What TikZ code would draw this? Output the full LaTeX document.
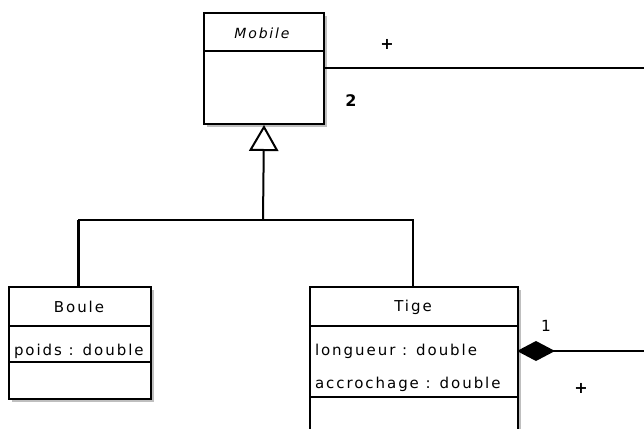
\documentclass[tikz,border=0pt]{standalone}
\usepackage{fontspec}
\setmainfont{DejaVu Sans}
\newfontfamily\umlf[LetterSpace=13]{DejaVu Sans}
\usetikzlibrary{arrows.meta,shadows}
\begin{document}
\begin{tikzpicture}[x=0.75pt,y=-0.75pt,line width=1.5pt,
  classbox/.style={draw, line width=1.5pt, fill=white, inner sep=0pt, anchor=north west,
    drop shadow={shadow xshift=2.25pt, shadow yshift=-2.25pt, fill=black!25, opacity=1}},
  lbl/.style={font=\umlf\fontsize{11.25pt}{13pt}\selectfont, inner sep=0pt},
  attr/.style={lbl, anchor=west},
  mult/.style={font=\fontsize{11.5pt}{13pt}\selectfont, inner sep=0pt},
  multb/.style={mult, font=\bfseries\fontsize{12pt}{13pt}\selectfont},
  conn/.style={line width=1.5pt}]
\useasboundingbox (0,0) rectangle (644,429);
\clip (0,0) rectangle (644,429);
% classes
\node[classbox, minimum width=90pt, minimum height=83.25pt] (mobile) at (203,12) {};
\node[classbox, minimum width=106.5pt, minimum height=84pt] (boule) at (8,286) {};
\node[classbox, minimum width=156pt, minimum height=130pt] (tige) at (309,286) {};
% compartments
\draw (203,51) -- (323,51);
\draw (8,326) -- (150,326);
\draw (8,362) -- (150,362);
\draw (309,326) -- (517,326);
\draw (309,397) -- (517,397);
% texts
\node[lbl, font=\umlf\itshape\fontsize{10.5pt}{12pt}\selectfont] (tmobile) at (262,33) {Mobile};
\node[lbl] (tboule) at (79,307) {Boule};
\node[attr] (apoids) at (13,351) {poids : double};
\node[lbl] (ttige) at (413,307) {Tige};
\node[attr] (along) at (314,351) {longueur : double};
\node[attr] (aaccr) at (314,384) {accrochage : double};
% generalization
\coordinate (jmid) at (263,220);
\coordinate (jleft) at (78,220);
\coordinate (jright) at (413,220);
\draw[conn, line width=2.25pt] (boule.north -| jleft) -- (jleft);
\draw[conn] (jleft) -- (jright) -- (tige.north -| jright);
\draw[conn, -{Triangle[open, length=19.5pt, width=22pt, line width=1.5pt]}] (jmid) -- (mobile.south);
% association from Mobile
\coordinate (mR) at (323,68);
\coordinate (mEnd) at (644,68);
\draw[conn] (mR) -- (mEnd);
\node[multb] (plus1) at (387,44) {+};
\node[multb] (two) at (351,101) {2};
% composition from Tige
\coordinate (tR) at (517,351);
\coordinate (tEnd) at (644,351);
\draw[conn, {Diamond[length=28.5pt, width=15pt]}-] (tR) -- (tEnd);
\node[mult] (one) at (546,326) {1};
\node[multb] (plus2) at (581,388) {+};
\end{tikzpicture}
\end{document}
